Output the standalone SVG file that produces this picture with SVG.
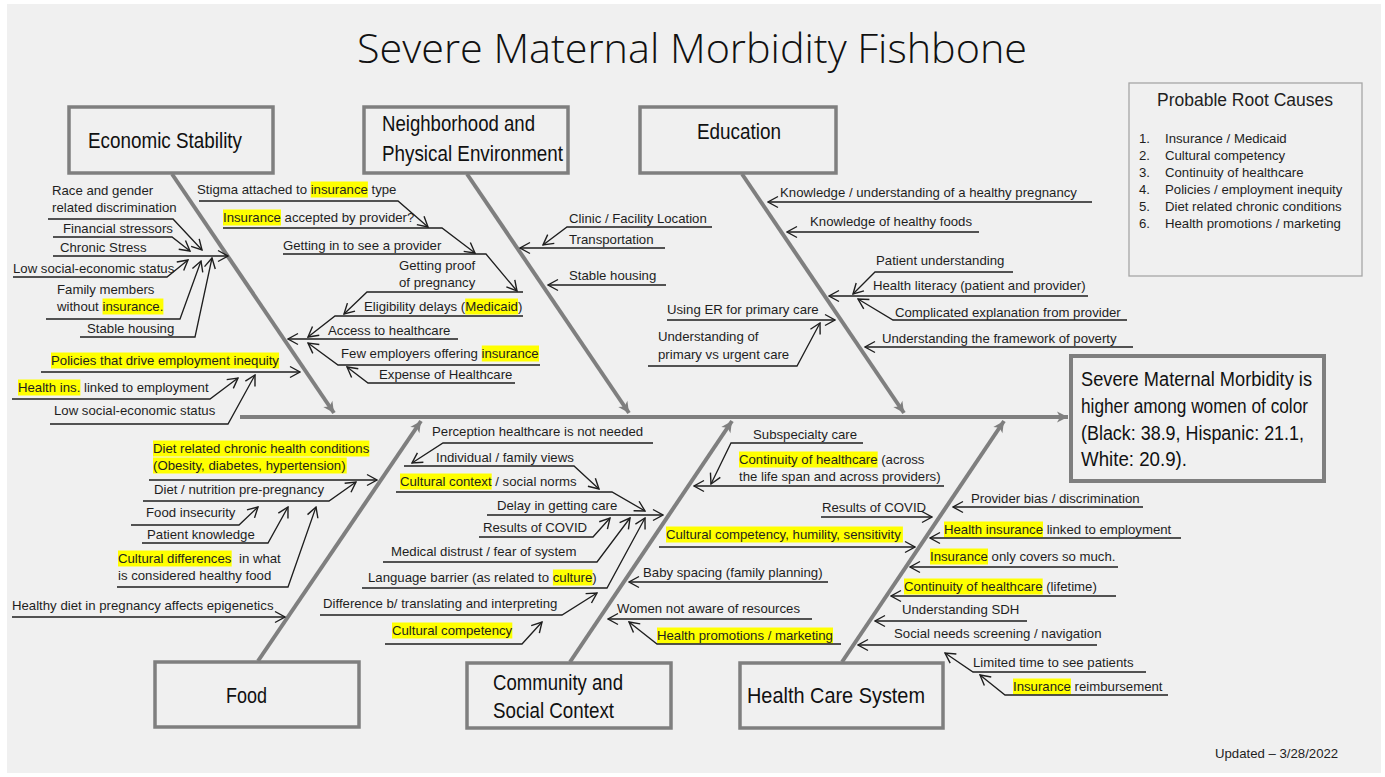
<svg xmlns="http://www.w3.org/2000/svg" width="1385" height="777" viewBox="0 0 1385 777">
<defs>
<style>
.t{font-family:"Liberation Sans",Arial,sans-serif;font-size:13.2px;fill:#1e1e1e}
.h{fill:#ffff00}
.c{fill:none;stroke:#1e1e1e;stroke-width:1.3;marker-end:url(#a)}
.bone{fill:none;stroke:#7f7f7f;stroke-width:4;marker-end:url(#g)}
.box{fill:none;stroke:#7f7f7f;stroke-width:3.5}
.cat{font-family:"Liberation Sans Narrow","Liberation Sans",sans-serif;font-size:22px;fill:#111}
.eff{font-family:"Liberation Sans Narrow","Liberation Sans",sans-serif;font-size:20px;fill:#111}
</style>
<marker id="a" viewBox="-12 -7 13 14" refX="0" refY="0" markerWidth="13" markerHeight="14" markerUnits="userSpaceOnUse" orient="auto">
<path d="M-10,-5.5 L0,0 L-10,5.5" fill="none" stroke="#1e1e1e" stroke-width="1.4"/>
</marker>
<marker id="g" viewBox="-12 -7 13 14" refX="0" refY="0" markerWidth="13" markerHeight="14" markerUnits="userSpaceOnUse" orient="auto">
<path d="M0,0 L-11,-5.5 L-8,0 L-11,5.5 Z" fill="#7f7f7f"/>
</marker>
</defs>
<rect x="0" y="0" width="1385" height="777" fill="#ffffff"/>
<rect x="7" y="4" width="1374" height="769" fill="#f0f0f0"/>

<text x="692" y="63" text-anchor="middle" textLength="670" lengthAdjust="spacingAndGlyphs" style="font-family:'Open Sans','Liberation Sans',sans-serif;font-weight:300;font-size:40px;fill:#111">Severe Maternal Morbidity Fishbone</text>

<g id="spine-and-bones">
<line class="bone" x1="240" y1="417" x2="1068" y2="417"/>
<line class="bone" x1="172" y1="174" x2="334" y2="413"/>
<line class="bone" x1="467" y1="174" x2="629" y2="413"/>
<line class="bone" x1="742" y1="174" x2="904" y2="413"/>
<line class="bone" x1="258" y1="661" x2="421" y2="421"/>
<line class="bone" x1="570" y1="662" x2="732" y2="421"/>
<line class="bone" x1="842" y1="662" x2="1004" y2="421"/>
</g>

<g id="cat-economic">
<rect class="box" x="69" y="107" width="204" height="66"/>
<text class="cat" x="88" y="148" textLength="154" lengthAdjust="spacingAndGlyphs">Economic Stability</text>
</g>
<g id="cat-neighborhood">
<rect class="box" x="364" y="107" width="204" height="66"/>
<text class="cat" x="382" y="131" textLength="153" lengthAdjust="spacingAndGlyphs">Neighborhood and</text>
<text class="cat" x="382" y="161" textLength="181" lengthAdjust="spacingAndGlyphs">Physical Environment</text>
</g>
<g id="cat-education">
<rect class="box" x="640" y="107" width="196" height="66"/>
<text class="cat" x="697" y="139" textLength="84" lengthAdjust="spacingAndGlyphs">Education</text>
</g>
<g id="cat-food">
<rect class="box" x="155" y="662" width="204" height="65"/>
<text class="cat" x="226" y="703" textLength="41" lengthAdjust="spacingAndGlyphs">Food</text>
</g>
<g id="cat-community">
<rect class="box" x="467" y="663" width="204" height="65"/>
<text class="cat" x="493" y="690" textLength="130" lengthAdjust="spacingAndGlyphs">Community and</text>
<text class="cat" x="493" y="718" textLength="121" lengthAdjust="spacingAndGlyphs">Social Context</text>
</g>
<g id="cat-healthcare">
<rect class="box" x="740" y="663" width="203" height="65"/>
<text class="cat" x="747" y="703" textLength="178" lengthAdjust="spacingAndGlyphs">Health Care System</text>
</g>

<g id="effect">
<rect x="1071" y="356" width="253" height="125" fill="none" stroke="#7f7f7f" stroke-width="4"/>
<text class="eff" x="1081" y="386" textLength="231" lengthAdjust="spacingAndGlyphs">Severe Maternal Morbidity is</text>
<text class="eff" x="1081" y="413" textLength="227" lengthAdjust="spacingAndGlyphs">higher among women of color</text>
<text class="eff" x="1081" y="440" textLength="223" lengthAdjust="spacingAndGlyphs">(Black: 38.9, Hispanic: 21.1,</text>
<text class="eff" x="1081" y="466" textLength="106" lengthAdjust="spacingAndGlyphs">White: 20.9).</text>
</g>

<g id="root-causes">
<rect x="1129" y="83" width="233" height="193" fill="none" stroke="#a6a6a6" stroke-width="1.3"/>
<text x="1245" y="106" text-anchor="middle" style="font-family:'Liberation Sans',sans-serif;font-size:17.5px;fill:#1e1e1e">Probable Root Causes</text>
<text class="t" x="1139" y="143">1.</text><text class="t" x="1165" y="143">Insurance / Medicaid</text>
<text class="t" x="1139" y="160">2.</text><text class="t" x="1165" y="160">Cultural competency</text>
<text class="t" x="1139" y="177">3.</text><text class="t" x="1165" y="177">Continuity of healthcare</text>
<text class="t" x="1139" y="194">4.</text><text class="t" x="1165" y="194">Policies / employment inequity</text>
<text class="t" x="1139" y="211">5.</text><text class="t" x="1165" y="211">Diet related chronic conditions</text>
<text class="t" x="1139" y="228">6.</text><text class="t" x="1165" y="228">Health promotions / marketing</text>
</g>

<g id="highlights">
<rect class="h" x="310.7" y="181.5" width="57.2" height="16"/>
<rect class="h" x="223" y="209.5" width="58" height="16"/>
<rect class="h" x="102.5" y="298.5" width="60.9" height="16"/>
<rect class="h" x="465.2" y="298.5" width="52.8" height="16"/>
<rect class="h" x="481.8" y="345.5" width="57.2" height="16"/>
<rect class="h" x="51" y="352.5" width="228.1" height="16"/>
<rect class="h" x="18" y="379.5" width="62.4" height="16"/>
<rect class="h" x="153" y="440.5" width="216.4" height="16"/>
<rect class="h" x="153" y="457.5" width="193.7" height="16"/>
<rect class="h" x="118" y="550.5" width="113.7" height="16"/>
<rect class="h" x="400" y="473.5" width="91.7" height="16"/>
<rect class="h" x="552.9" y="569.5" width="39.6" height="16"/>
<rect class="h" x="392" y="622.5" width="120.3" height="16"/>
<rect class="h" x="657" y="627.5" width="176" height="16"/>
<rect class="h" x="739" y="451.5" width="138.7" height="16"/>
<rect class="h" x="666" y="526.5" width="236.9" height="16"/>
<rect class="h" x="944" y="521.5" width="99" height="16"/>
<rect class="h" x="930" y="548.5" width="58" height="16"/>
<rect class="h" x="904" y="578.5" width="138.7" height="16"/>
<rect class="h" x="1013" y="678.5" width="58" height="16"/>
</g>

<g id="connectors">
<polyline class="c" points="48,219 173,219 202,250"/>
<polyline class="c" points="53,237 172,237 190,251"/>
<polyline class="c" points="53,256 228,256"/>
<polyline class="c" points="13,277 167,277 188,260"/>
<polyline class="c" points="46,319 180,319 201,261"/>
<polyline class="c" points="80,337 195,337 212,258"/>
<polyline class="c" points="41,372 300,372"/>
<polyline class="c" points="12,399 210,399 238,378"/>
<polyline class="c" points="50,424 228,424 255,375"/>
<polyline class="c" points="199,201 398,201 428,227"/>
<polyline class="c" points="223,228 442,228 475,253"/>
<polyline class="c" points="283,254 486,254 517,291"/>
<polyline class="c" points="523,292 367,292 344,314"/>
<polyline class="c" points="523,316 335,316 308,337"/>
<polyline class="c" points="458,339 288,339"/>
<polyline class="c" points="540,365 338,365 308,343"/>
<polyline class="c" points="515,383 368,383 347,367"/>
<polyline class="c" points="712,227 567,227 543,245"/>
<polyline class="c" points="665,248 520,248"/>
<polyline class="c" points="666,285 548,285"/>
<polyline class="c" points="667,320 835,320"/>
<polyline class="c" points="648,366 797,366 820,323"/>
<polyline class="c" points="1092,202 768,202"/>
<polyline class="c" points="979,232 787,232"/>
<polyline class="c" points="1013,272 875,272 853,294"/>
<polyline class="c" points="1088,296 829,296"/>
<polyline class="c" points="1127,320 893,320 858,299"/>
<polyline class="c" points="1133,347 865,347"/>
<polyline class="c" points="149,480 377,480"/>
<polyline class="c" points="143,501 329,501 356,482"/>
<polyline class="c" points="131,525 239,525 258,507"/>
<polyline class="c" points="142,543 268,543 288,507"/>
<polyline class="c" points="117,587 288,587 316,507"/>
<polyline class="c" points="12,617 285,617"/>
<polyline class="c" points="653,443 443,443 412,463"/>
<polyline class="c" points="404,466 574,466 599,489"/>
<polyline class="c" points="396,492 612,492 645,511"/>
<polyline class="c" points="487,515 663,515"/>
<polyline class="c" points="479,537 593,537 610,518"/>
<polyline class="c" points="383,562 597,562 630,518"/>
<polyline class="c" points="362,588 607,588 645,518"/>
<polyline class="c" points="320,615 562,615 597,593"/>
<polyline class="c" points="385,644 522,644 542,622"/>
<polyline class="c" points="828,582 629,582"/>
<polyline class="c" points="812,619 608,619"/>
<polyline class="c" points="841,644 657,644 629,622"/>
<polyline class="c" points="863,443 731,443 711,484"/>
<polyline class="c" points="944,486 694,486"/>
<polyline class="c" points="821,517 932,517"/>
<polyline class="c" points="659,547 915,547"/>
<polyline class="c" points="1143,507 953,507"/>
<polyline class="c" points="1181,538 930,538"/>
<polyline class="c" points="1118,567 910,567"/>
<polyline class="c" points="1116,596 891,596"/>
<polyline class="c" points="1027,621 875,621"/>
<polyline class="c" points="1097,645 858,645"/>
<polyline class="c" points="1146,672 973,672 945,653"/>
<polyline class="c" points="1168,695 1005,695 980,675"/>
</g>

<g id="economic-causes">
<text class="t" x="52" y="195">Race and gender</text>
<text class="t" x="52" y="212">related discrimination</text>
<text class="t" x="63" y="233">Financial stressors</text>
<text class="t" x="60" y="252">Chronic Stress</text>
<text class="t" x="13" y="273">Low social-economic status</text>
<text class="t" x="57" y="294">Family members</text>
<text class="t" x="57" y="311">without insurance.</text>
<text class="t" x="87" y="333">Stable housing</text>
<text class="t" x="51" y="365">Policies that drive employment inequity</text>
<text class="t" x="18" y="392">Health ins. linked to employment</text>
<text class="t" x="54" y="415">Low social-economic status</text>
<text class="t" x="197" y="194">Stigma attached to insurance type</text>
<text class="t" x="223" y="222">Insurance accepted by provider?</text>
<text class="t" x="283" y="250">Getting in to see a provider</text>
<text class="t" x="399" y="270">Getting proof</text>
<text class="t" x="399" y="287">of pregnancy</text>
<text class="t" x="364" y="311">Eligibility delays (Medicaid)</text>
<text class="t" x="328" y="335">Access to healthcare</text>
<text class="t" x="341" y="358">Few employers offering insurance</text>
<text class="t" x="379" y="379">Expense of Healthcare</text>
</g>

<g id="neighborhood-causes">
<text class="t" x="569" y="223">Clinic / Facility Location</text>
<text class="t" x="569" y="244">Transportation</text>
<text class="t" x="569" y="280">Stable housing</text>
<text class="t" x="667" y="314">Using ER for primary care</text>
<text class="t" x="658" y="341">Understanding of</text>
<text class="t" x="658" y="359">primary vs urgent care</text>
</g>

<g id="education-causes">
<text class="t" x="780" y="197">Knowledge / understanding of a healthy pregnancy</text>
<text class="t" x="810" y="226">Knowledge of healthy foods</text>
<text class="t" x="876" y="265">Patient understanding</text>
<text class="t" x="873" y="290">Health literacy (patient and provider)</text>
<text class="t" x="895" y="317">Complicated explanation from provider</text>
<text class="t" x="882" y="343">Understanding the framework of poverty</text>
</g>

<g id="food-causes">
<text class="t" x="153" y="453">Diet related chronic health conditions</text>
<text class="t" x="153" y="470">(Obesity, diabetes, hypertension)</text>
<text class="t" x="154" y="494">Diet / nutrition pre-pregnancy</text>
<text class="t" x="146" y="517">Food insecurity</text>
<text class="t" x="147" y="539">Patient knowledge</text>
<text class="t" x="118" y="563">Cultural differences<tspan x="239">in what</tspan></text>
<text class="t" x="118" y="580">is considered healthy food</text>
<text class="t" x="12" y="610">Healthy diet in pregnancy affects epigenetics</text>
</g>

<g id="community-causes">
<text class="t" x="432" y="436">Perception healthcare is not needed</text>
<text class="t" x="436" y="462">Individual / family views</text>
<text class="t" x="400" y="486">Cultural context / social norms</text>
<text class="t" x="497" y="510">Delay in getting care</text>
<text class="t" x="483" y="532">Results of COVID</text>
<text class="t" x="391" y="556">Medical distrust / fear of system</text>
<text class="t" x="368" y="582">Language barrier (as related to culture)</text>
<text class="t" x="323" y="608">Difference b/ translating and interpreting</text>
<text class="t" x="392" y="635">Cultural competency</text>
<text class="t" x="643" y="577">Baby spacing (family planning)</text>
<text class="t" x="617" y="613">Women not aware of resources</text>
<text class="t" x="657" y="640">Health promotions / marketing</text>
</g>

<g id="healthcare-causes">
<text class="t" x="753" y="439">Subspecialty care</text>
<text class="t" x="739" y="464">Continuity of healthcare (across</text>
<text class="t" x="739" y="481">the life span and across providers)</text>
<text class="t" x="822" y="512">Results of COVID</text>
<text class="t" x="666" y="539">Cultural competency, humility, sensitivity</text>
<text class="t" x="971" y="503">Provider bias / discrimination</text>
<text class="t" x="944" y="534">Health insurance linked to employment</text>
<text class="t" x="930" y="561">Insurance only covers so much.</text>
<text class="t" x="904" y="591">Continuity of healthcare (lifetime)</text>
<text class="t" x="902" y="614">Understanding SDH</text>
<text class="t" x="894" y="638">Social needs screening / navigation</text>
<text class="t" x="973" y="667">Limited time to see patients</text>
<text class="t" x="1013" y="691">Insurance reimbursement</text>
</g>

<text class="t" x="1215" y="758">Updated – 3/28/2022</text>
</svg>
